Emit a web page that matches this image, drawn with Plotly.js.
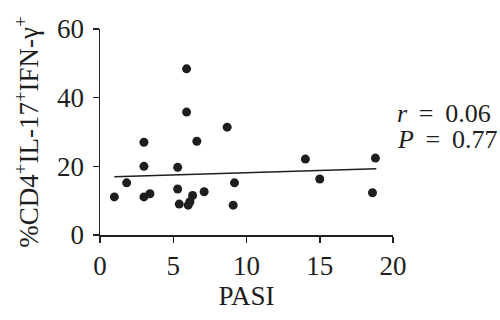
<!DOCTYPE html>
<html>
<head>
<meta charset="utf-8">
<script src="https://cdn.plot.ly/plotly-3.0.1.min.js"></script>
<style>html,body{margin:0;padding:0;background:#fff;}#chart{width:500px;height:320px;}</style>
</head>
<body>
<div id="chart"></div>
<script>
const pasi = [0.98, 1.82, 3.0, 3.0, 3.0, 3.41, 5.3, 5.3, 5.41, 5.91, 5.91, 6.02, 6.14, 6.32, 6.61, 7.11, 8.68, 9.18, 9.09, 14.02, 15.0, 18.8, 18.6];
const cells = [11.1, 15.2, 27.0, 20.0, 11.1, 12.0, 19.7, 13.4, 9.0, 48.4, 35.8, 8.7, 9.7, 11.5, 27.3, 12.6, 31.4, 15.2, 8.7, 22.1, 16.3, 22.4, 12.3];
const fitX = [0.98, 18.86];
const fitY = [17.0, 19.3];
const xTicks = [0, 5, 10, 15, 20];
const yTicks = [0, 20, 40, 60];
const statLines = ['<i>r</i>\u2009 = \u20090.06', '<i>P</i>\u2009 = \u20090.77'];

const serif = '"Liberation Serif", "Times New Roman", serif';
const ink = '#1e1e1e';
const fs = 27;
const data = [
  {x: fitX, y: fitY, type: 'scatter', mode: 'lines', line: {color: ink, width: 1.5}, hoverinfo: 'skip'},
  {x: pasi, y: cells, type: 'scatter', mode: 'markers', marker: {color: ink, size: 9}, cliponaxis: false}
];
const layout = {
  width: 500, height: 320,
  margin: {l: 100, r: 107, t: 29, b: 85},
  paper_bgcolor: '#fff', plot_bgcolor: '#fff',
  showlegend: false,
  font: {family: serif, color: ink, size: fs},
  xaxis: {
    range: [0, 20], tickvals: xTicks, ticktext: xTicks.map(String),
    showgrid: false, zeroline: false, showline: true, linecolor: ink, linewidth: 1.5,
    ticks: 'outside', ticklen: 6, tickwidth: 1.5, tickcolor: ink,
    tickfont: {size: fs, family: serif, color: ink},
    title: {text: 'PASI', font: {size: fs, family: serif, color: ink}, standoff: 2}
  },
  yaxis: {
    range: [0, 60], tickvals: yTicks, ticktext: yTicks.map(String),
    showgrid: false, zeroline: false, showline: true, linecolor: ink, linewidth: 1.5,
    ticks: 'outside', ticklen: 6, tickwidth: 1.5, tickcolor: ink,
    tickfont: {size: fs, family: serif, color: ink},
    ticklabelstandoff: 3,
    title: {text: '%CD4<sup>+</sup>IL-17<sup>+</sup>IFN-γ<sup>+</sup>', font: {size: fs, family: serif, color: ink}, standoff: 10}
  },
  annotations: [
    {xref: 'paper', yref: 'paper', x: 1.0, y: (235 - 113) / 206, xanchor: 'left', yanchor: 'middle', xshift: 2, text: statLines[0], showarrow: false, font: {size: 26, family: serif, color: ink}},
    {xref: 'paper', yref: 'paper', x: 1.0, y: (235 - 139) / 206, xanchor: 'left', yanchor: 'middle', xshift: 2, text: statLines[1], showarrow: false, font: {size: 26, family: serif, color: ink}}
  ]
};
Plotly.newPlot('chart', data, layout, {displayModeBar: false, staticPlot: true});
</script>
</body>
</html>
